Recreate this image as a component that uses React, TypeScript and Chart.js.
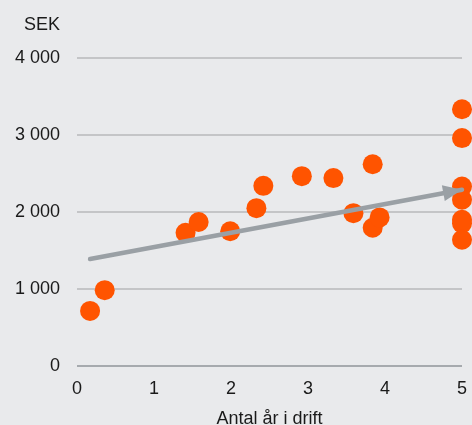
import React, { useEffect, useRef } from "react";
import { Chart, registerables } from "chart.js";

Chart.register(...registerables);

// Years in operation vs. cost (SEK) per unit
const yearsInOperation = [0.17, 0.36, 1.41, 1.58, 1.99, 2.33, 2.42, 2.92, 3.33, 3.59, 3.84, 3.84, 3.93, 5, 5, 5, 5, 5, 5, 5];
const sekValues = [715, 985, 1730, 1870, 1750, 2050, 2340, 2465, 2440, 1985, 2620, 1795, 1930, 3335, 2960, 2330, 2160, 1900, 1850, 1640];

// Trend arrow: start and end
const trendYears = [0.17, 5.0];
const trendSek = [1390, 2290];

const yTicks = [0, 1000, 2000, 3000, 4000];
const xTicks = [0, 1, 2, 3, 4, 5];

const FONT = "'Liberation Sans', Arial, sans-serif";
const TEXT = "#1a1a1a";
const ORANGE = "#ff5400";
const ARROW = "#9aa0a5";
const BG = "#e9eaec";

const fmtThousands = (v: number) =>
  String(v).replace(/\B(?=(\d{3})+(?!\d))/g, " ");

const overlayPlugin = {
  id: "overlay",
  afterDatasetsDraw(chart: any) {
    const meta = chart.getDatasetMeta(1);
    const pts = meta.data;
    if (pts.length < 2) return;
    const a = pts[pts.length - 2];
    const b = pts[pts.length - 1];
    const ang = Math.atan2(b.y - a.y, b.x - a.x);
    const len = 19;
    const half = 8;
    const ctx = chart.ctx;
    ctx.save();
    ctx.fillStyle = ARROW;
    ctx.beginPath();
    ctx.moveTo(b.x, b.y);
    ctx.lineTo(
      b.x - len * Math.cos(ang) + half * Math.sin(ang),
      b.y - len * Math.sin(ang) - half * Math.cos(ang)
    );
    ctx.lineTo(
      b.x - len * Math.cos(ang) - half * Math.sin(ang),
      b.y - len * Math.sin(ang) + half * Math.cos(ang)
    );
    ctx.closePath();
    ctx.fill();
    ctx.restore();
  },
  afterDraw(chart: any) {
    const ctx = chart.ctx;
    ctx.save();
    ctx.font = `18px ${FONT}`;
    ctx.fillStyle = TEXT;
    ctx.textAlign = "right";
    ctx.textBaseline = "middle";
    ctx.fillText("SEK", chart.scales.y.right - 17, 25);
    ctx.restore();
  },
};

export default function App() {
  const ref = useRef<HTMLCanvasElement>(null);

  useEffect(() => {
    document.body.style.margin = "0";
    document.body.style.background = BG;
    const canvas = ref.current;
    if (!canvas) return;
    const chart = new Chart(canvas, {
      type: "scatter",
      data: {
        datasets: [
          {
            data: yearsInOperation.map((x, i) => ({ x, y: sekValues[i] })),
            backgroundColor: ORANGE,
            borderWidth: 0,
            pointRadius: 10,
            pointHoverRadius: 10,
            order: 2,
            clip: false,
          },
          {
            type: "line",
            data: trendYears.map((x, i) => ({ x, y: trendSek[i] })),
            borderColor: ARROW,
            borderWidth: 4.5,
            borderCapStyle: "round",
            pointRadius: 0,
            showLine: true,
            fill: false,
            order: 1,
            clip: false,
          } as any,
        ],
      },
      options: {
        animation: false,
        responsive: false,
        maintainAspectRatio: false,
        layout: { padding: { top: 58, left: 0, right: 0, bottom: 0 } },
        plugins: {
          legend: { display: false },
          tooltip: { enabled: false },
        },
        scales: {
          x: {
            type: "linear",
            min: 0,
            max: 5,
            afterBuildTicks: (s: any) => {
              s.ticks = xTicks.map((v) => ({ value: v }));
            },
            afterFit: (s: any) => {
              s.height = 59;
              s.paddingLeft = 0;
              s.paddingRight = 8;
            },
            grid: { display: false, drawTicks: false },
            border: { display: false },
            ticks: {
              padding: 12,
              color: TEXT,
              font: { family: FONT, size: 18 },
            },
            title: {
              display: true,
              text: "Antal år i drift",
              color: TEXT,
              font: { family: FONT, size: 18, lineHeight: 1 },
              padding: { top: 0, bottom: -3 },
            },
          },
          y: {
            type: "linear",
            min: 0,
            max: 4000,
            afterBuildTicks: (s: any) => {
              s.ticks = yTicks.map((v) => ({ value: v }));
            },
            afterFit: (s: any) => {
              s.width = 77;
            },
            grid: {
              drawTicks: false,
              lineWidth: 2,
              color: (c: any) => (c.tick && c.tick.value === 0 ? "#a6aaae" : "#c4c5c7"),
            },
            border: { display: false },
            ticks: {
              padding: 17,
              color: TEXT,
              font: { family: FONT, size: 18 },
              callback: (v: any) => fmtThousands(Number(v)),
            },
          },
        },
      },
      plugins: [overlayPlugin],
    });
    return () => chart.destroy();
  }, []);

  return (
    <div style={{ width: 472, height: 425, background: BG }}>
      <canvas ref={ref} width={472} height={425} style={{ display: "block" }} />
    </div>
  );
}
